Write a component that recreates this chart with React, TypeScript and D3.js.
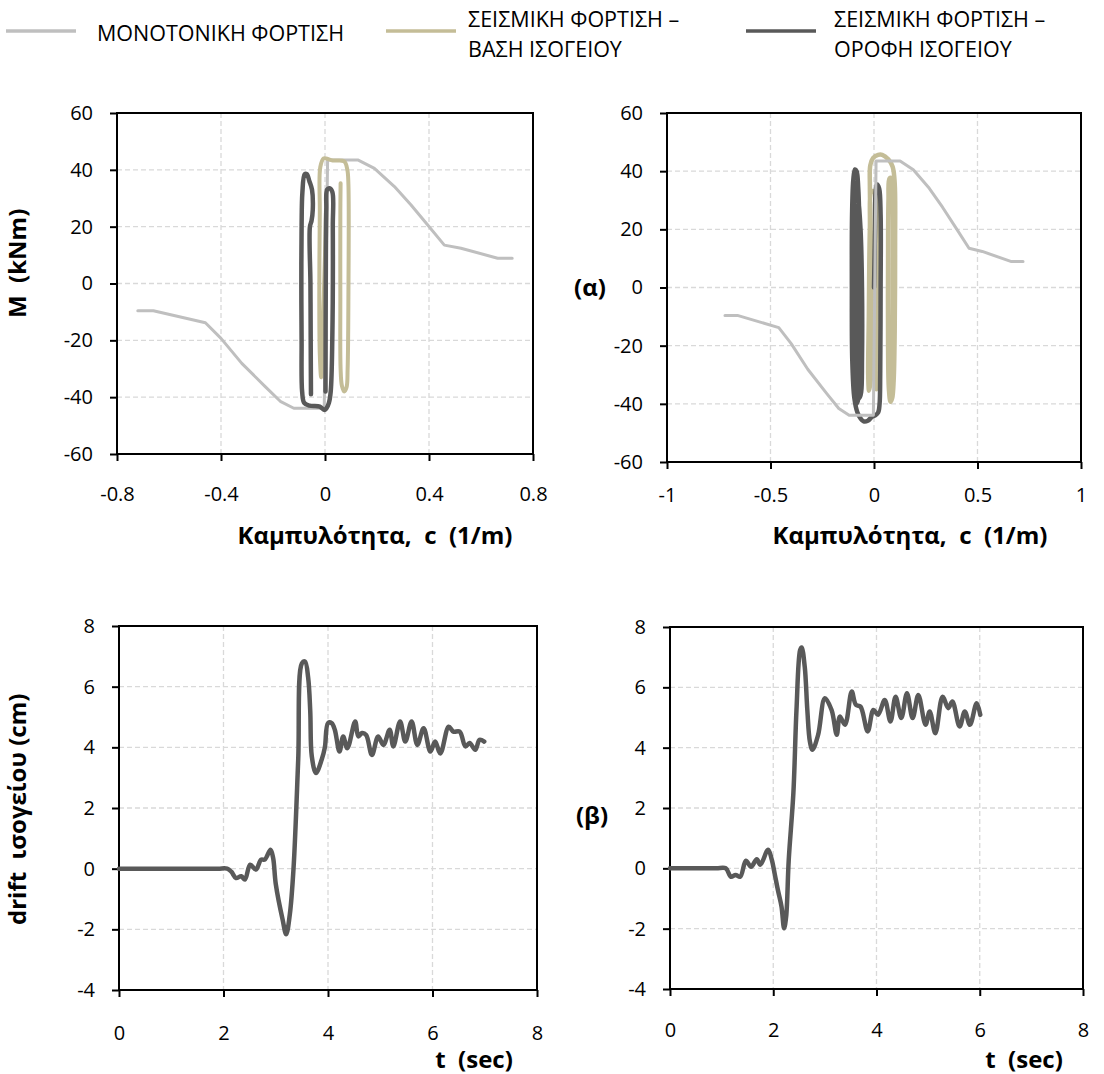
import * as d3 from "d3";
import { useEffect, useRef } from "react";

// axis ticks
const momentTicks = [-60, -40, -20, 0, 20, 40, 60];
const curvTicksA = [-0.8, -0.4, 0, 0.4, 0.8];
const curvTicksB = [-1, -0.5, 0, 0.5, 1];
const driftTicks = [-4, -2, 0, 2, 4, 6, 8];
const timeTicks = [0, 2, 4, 6, 8];

const legendLabels = [
    ["ΜΟΝΟΤΟΝΙΚΗ ΦΟΡΤΙΣΗ"],
    ["ΣΕΙΣΜΙΚΗ ΦΟΡΤΙΣΗ –", "ΒΑΣΗ ΙΣΟΓΕΙΟΥ"],
    ["ΣΕΙΣΜΙΚΗ ΦΟΡΤΙΣΗ –", "ΟΡΟΦΗ ΙΣΟΓΕΙΟΥ"],
];

// monotonic loading, curvature c (1/m) vs M (kNm) - same in both charts
const monoC = [-0.72, -0.66, -0.46, -0.4, -0.32, -0.23, -0.17, -0.12, -0.003, 0.01, 0.126, 0.19, 0.267, 0.331, 0.395, 0.459, 0.523, 0.664, 0.72];
const monoM = [-9.6, -9.6, -13.8, -19.3, -28.1, -36.3, -41.6, -43.9, -43.9, 43.5, 43.5, 40.5, 34.1, 27.6, 20.6, 13.5, 12.4, 8.9, 8.9];

// seismic, base of ground floor (left chart)
const baseAC = [0.0, 0.004, 0.004, 0.0, -0.01, -0.015, -0.02, -0.022, -0.02, -0.018, -0.005, 0.004, 0.03, 0.074, 0.086, 0.09, 0.09, 0.087, 0.083, 0.074, 0.065, 0.06, 0.059, 0.059, 0.06];
const baseAM = [0, 15, 26, 10, -20, -33, -25, -5, 25, 41, 44, 44, 43.3, 43, 40, 35, -5, -30, -36.5, -38, -36, -30, -5, 25, 35.3];

// seismic, top of ground floor (left chart)
const roofAC = [0.002, 0.003, 0.005, 0.008, 0.017, 0.028, 0.03, 0.028, 0.022, 0.015, 0.005, -0.003, -0.02, -0.06, -0.08, -0.088, -0.09, -0.091, -0.09, -0.087, -0.078, -0.07, -0.06, -0.05, -0.047, -0.052, -0.058, -0.056, -0.055, -0.054];
const roofAM = [-38, 0, 26, 33, 33.5, 32.3, 20, -20, -38, -42, -44, -44.5, -43.3, -43, -42, -38, -20, 0, 20, 32, 38.5, 38.5, 36, 33, 26, 22, 20, 0, -20, -39];

// seismic, base of ground floor (right chart)
const baseBC = [0.0, 0.008, 0.012, 0.016, 0.018, 0.012, 0.0, -0.012, -0.02, -0.025, -0.028, -0.024, -0.016, -0.012, -0.015, -0.02, -0.018, -0.005, 0.02, 0.04, 0.07, 0.09, 0.1, 0.102, 0.1, 0.095, 0.088, 0.08, 0.072, 0.068, 0.068, 0.07, 0.075, 0.085, 0.09, 0.09, 0.088, 0.085];
const baseBM = [0, -20, -35, -25, 5, 30, 33, 33, 20, -10, -30, -35.5, -32, -10, 15, 35, 42, 44.5, 45.6, 45.6, 44, 41.5, 36, 15, -15, -32, -38, -39.3, -35, -20, 10, 30, 37.5, 37.5, 30, 0, -25, -34];

// seismic, top of ground floor (right chart)
const roofBC = [0.0, 0.005, 0.008, 0.015, 0.025, 0.032, 0.032, 0.03, 0.027, 0.02, 0.005, -0.01, -0.03, -0.05, -0.065, -0.08, -0.095, -0.105, -0.107, -0.106, -0.1, -0.092, -0.084, -0.076, -0.07, -0.068, -0.07, -0.075, -0.085, -0.095, -0.098, -0.098, -0.095, -0.088, -0.078, -0.065, -0.058, -0.058, -0.062, -0.07, -0.08, -0.085, -0.086, -0.082];
const roofBM = [0, 20, 33, 35.4, 34, 25, 0, -30, -40, -43, -44, -44.5, -45.8, -46, -45, -43, -38, -25, 0, 25, 37, 40.6, 40, 34, 20, 0, -25, -38, -40, -36, -15, 10, 30, 36, 32, 20, 0, -25, -36, -38, -30, -5, 20, 28];

// ground floor drift (cm) vs time (sec)
const driftAT = [0, 0.5, 1.0, 1.5, 1.9, 2.07, 2.15, 2.24, 2.34, 2.41, 2.51, 2.62, 2.72, 2.79, 2.9, 2.95, 3.0, 3.13, 3.2, 3.27, 3.34, 3.43, 3.5, 3.56, 3.62, 3.66, 3.69, 3.77, 3.88, 3.94, 4.0, 4.07, 4.13, 4.22, 4.29, 4.37, 4.52, 4.58, 4.65, 4.73, 4.84, 4.96, 5.06, 5.18, 5.25, 5.38, 5.48, 5.6, 5.71, 5.83, 5.96, 6.05, 6.15, 6.31, 6.4, 6.52, 6.63, 6.71, 6.82, 6.9, 6.99];
const driftAD = [0, 0, 0, 0, 0, 0, -0.1, -0.31, -0.25, -0.36, 0.13, -0.03, 0.3, 0.3, 0.62, 0.35, -0.5, -1.67, -2.16, -1.5, 0, 3.6, 6.77, 6.83, 6.3, 5.2, 3.7, 3.15, 3.6, 4.0, 4.8, 4.8, 4.58, 3.86, 4.36, 3.97, 4.85, 4.36, 4.47, 4.41, 3.75, 4.36, 4.08, 4.58, 4.03, 4.85, 4.19, 4.85, 4.08, 4.63, 3.86, 4.19, 3.8, 4.68, 4.52, 4.52, 4.03, 4.14, 3.92, 4.25, 4.19];

const driftBT = [0, 0.5, 0.9, 1.08, 1.18, 1.27, 1.36, 1.47, 1.57, 1.68, 1.75, 1.9, 1.97, 2.03, 2.09, 2.16, 2.21, 2.25, 2.3, 2.39, 2.45, 2.52, 2.55, 2.61, 2.66, 2.71, 2.76, 2.87, 3.0, 3.13, 3.23, 3.29, 3.39, 3.52, 3.6, 3.69, 3.83, 3.94, 4.03, 4.16, 4.27, 4.37, 4.48, 4.59, 4.7, 4.81, 4.95, 5.03, 5.14, 5.28, 5.39, 5.47, 5.61, 5.71, 5.81, 5.94, 6.01];
const driftBD = [0, 0, 0, 0, -0.28, -0.22, -0.28, 0.25, 0.05, 0.3, 0.12, 0.62, 0.3, -0.2, -0.72, -1.27, -1.99, -1.6, 0.28, 2.5, 5.25, 7.23, 7.32, 6.68, 5.25, 4.2, 3.93, 4.43, 5.64, 5.25, 4.43, 5.03, 4.76, 5.86, 5.42, 5.36, 4.54, 5.25, 5.09, 5.58, 4.87, 5.69, 4.98, 5.8, 4.98, 5.75, 4.76, 5.2, 4.48, 5.69, 5.31, 5.53, 4.7, 5.2, 4.76, 5.47, 5.09];

const FONT = "'Open Sans', 'Liberation Sans', sans-serif";
const GRAY = "#bfbfbf";
const TAN = "#c4bd97";
const DARK = "#595959";

const fmt = (d) => String(+(+d).toFixed(2));

const drawPanel = (svg, box, xDomain, yDomain, xTicks, yTicks, xPad) => {
    const x = d3.scaleLinear().domain(xDomain).range([box.left, box.right]);
    const y = d3.scaleLinear().domain(yDomain).range([box.bottom, box.top]);
    const g = svg.append("g");

    g.append("g").selectAll("line")
        .data(xTicks.slice(1, -1))
        .join("line")
        .attr("x1", (d) => x(d)).attr("x2", (d) => x(d))
        .attr("y1", box.top).attr("y2", box.bottom)
        .attr("stroke", "#d9d9d9").attr("stroke-width", 1.3).attr("stroke-dasharray", "5,3");
    g.append("g").selectAll("line")
        .data(yTicks.slice(1, -1))
        .join("line")
        .attr("y1", (d) => y(d)).attr("y2", (d) => y(d))
        .attr("x1", box.left).attr("x2", box.right)
        .attr("stroke", "#d9d9d9").attr("stroke-width", 1.3).attr("stroke-dasharray", "5,3");

    g.append("rect")
        .attr("x", box.left).attr("y", box.top)
        .attr("width", box.right - box.left).attr("height", box.bottom - box.top)
        .attr("fill", "none").attr("stroke", "#000").attr("stroke-width", 2);

    const yAxis = g.append("g")
        .attr("transform", `translate(${box.left},0)`)
        .call(d3.axisLeft(y).tickValues(yTicks).tickSize(7).tickPadding(17).tickFormat(fmt));
    const xAxis = g.append("g")
        .attr("transform", `translate(0,${box.bottom})`)
        .call(d3.axisBottom(x).tickValues(xTicks).tickSize(7).tickPadding(xPad).tickFormat(fmt));
    [yAxis, xAxis].forEach((a) => {
        a.select(".domain").remove();
        a.selectAll("line").attr("stroke", "#000").attr("stroke-width", 2);
        a.selectAll("text").attr("font-family", FONT).attr("font-size", 20).attr("fill", "#000");
    });
    return { x, y, g };
};

const drawCurve = (g, x, y, xs, ys, color, width, curve) => {
    const pts = xs.map((v, i) => [v, ys[i]]);
    g.append("path")
        .datum(pts)
        .attr("d", d3.line().x((d) => x(d[0])).y((d) => y(d[1])).curve(curve))
        .attr("fill", "none")
        .attr("stroke", color)
        .attr("stroke-width", width)
        .attr("stroke-linejoin", "round")
        .attr("stroke-linecap", "round");
};

const addText = (svg, str, x, y, opts = {}) => {
    const t = svg.append("text")
        .attr("x", x).attr("y", y)
        .attr("font-family", FONT)
        .attr("font-size", opts.size || 24)
        .attr("font-weight", opts.bold ? "bold" : "normal")
        .attr("text-anchor", opts.anchor || "middle")
        .attr("fill", "#000")
        .style("white-space", "pre")
        .text(str);
    if (opts.rotate) t.attr("transform", `rotate(-90,${x},${y})`);
    return t;
};

const App = () => {
    const ref = useRef(null);

    useEffect(() => {
        const svg = d3.select(ref.current);
        svg.selectAll("*").remove();
        const smooth = d3.curveCatmullRom.alpha(0.5);

        // legend
        const legendColors = [GRAY, TAN, DARK];
        const swatchX = [6, 386, 746];
        const textX = [97, 468, 834];
        legendLabels.forEach((lines, i) => {
            svg.append("line")
                .attr("x1", swatchX[i]).attr("x2", swatchX[i] + 70)
                .attr("y1", 31).attr("y2", 31)
                .attr("stroke", legendColors[i]).attr("stroke-width", 3.5);
            lines.forEach((s, j) => {
                const yy = lines.length === 1 ? 41 : 27 + j * 30;
                addText(svg, s, textX[i], yy, { size: 21.5, anchor: "start" });
            });
        });

        // (α) left M-c chart
        const pA = drawPanel(svg, { left: 117, right: 533, top: 113, bottom: 454 }, [-0.8, 0.8], [-60, 60], curvTicksA, momentTicks, 26);
        drawCurve(pA.g, pA.x, pA.y, monoC, monoM, GRAY, 3, d3.curveLinear);
        drawCurve(pA.g, pA.x, pA.y, baseAC, baseAM, TAN, 4, smooth);
        drawCurve(pA.g, pA.x, pA.y, roofAC, roofAM, DARK, 4.5, smooth);

        // (α) right M-c chart
        const pB = drawPanel(svg, { left: 667, right: 1081, top: 113, bottom: 462 }, [-1, 1], [-60, 60], curvTicksB, momentTicks, 19);
        drawCurve(pB.g, pB.x, pB.y, baseBC, baseBM, TAN, 4.5, smooth);
        drawCurve(pB.g, pB.x, pB.y, roofBC, roofBM, DARK, 4.5, smooth);
        drawCurve(pB.g, pB.x, pB.y, monoC, monoM, GRAY, 3, d3.curveLinear);

        // (β) drift charts
        const pC = drawPanel(svg, { left: 119, right: 537, top: 626, bottom: 990 }, [0, 8], [-4, 8], timeTicks, driftTicks, 29);
        drawCurve(pC.g, pC.x, pC.y, driftAT, driftAD, DARK, 4.5, smooth);
        const pD = drawPanel(svg, { left: 670, right: 1083, top: 627, bottom: 989 }, [0, 8], [-4, 8], timeTicks, driftTicks, 27);
        drawCurve(pD.g, pD.x, pD.y, driftBT, driftBD, DARK, 4.5, smooth);

        // axis titles
        addText(svg, "Καμπυλότητα,  c  (1/m)", 375, 544, { bold: true });
        addText(svg, "Καμπυλότητα,  c  (1/m)", 910, 544, { bold: true });
        addText(svg, "t  (sec)", 474, 1068, { bold: true });
        addText(svg, "t  (sec)", 1024, 1068, { bold: true });
        addText(svg, "M  (kNm)", 26, 318, { bold: true, anchor: "start", rotate: true });
        addText(svg, "drift  ισογείου (cm)", 26, 925, { bold: true, anchor: "start", rotate: true });
        addText(svg, "(α)", 590, 296, { bold: true });
        addText(svg, "(β)", 592, 824, { bold: true });
    }, []);

    return (
        <svg ref={ref} width={1104} height={1074}
            style={{ position: "absolute", left: 0, top: 0, background: "#fff" }} />
    );
};

export default App;
